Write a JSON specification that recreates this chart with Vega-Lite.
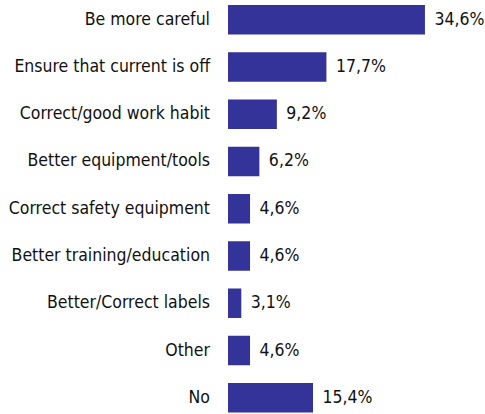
{
  "$schema": "https://vega.github.io/schema/vega-lite/v6.json",
  "width": 257,
  "height": 410.5,
  "autosize": "none",
  "padding": {"left": 228, "top": 3.5, "right": 0, "bottom": 0},
  "background": "white",
  "config": {"view": {"stroke": null}, "font": "DejaVu Sans Condensed"},
  "data": {"values": [
    {"answer": "Be more careful", "pct": 34.6, "label": "34,6%"},
    {"answer": "Ensure that current is off", "pct": 17.7, "label": "17,7%"},
    {"answer": "Correct/good work habit", "pct": 9.2, "label": "9,2%"},
    {"answer": "Better equipment/tools", "pct": 6.2, "label": "6,2%"},
    {"answer": "Correct safety equipment", "pct": 4.6, "label": "4,6%"},
    {"answer": "Better training/education", "pct": 4.6, "label": "4,6%"},
    {"answer": "Better/Correct labels", "pct": 3.1, "label": "3,1%"},
    {"answer": "Other", "pct": 4.6, "label": "4,6%"},
    {"answer": "No", "pct": 15.4, "label": "15,4%"}
  ]},
  "encoding": {
    "y": {"field": "answer", "type": "nominal", "sort": null,
      "scale": {"paddingInner": 0.376, "paddingOuter": 0.03},
      "axis": {"title": null, "domain": false, "ticks": false, "labelPadding": 18.5,
        "labelFontSize": 17.5, "labelColor": "#111111", "labelFont": "DejaVu Sans Condensed", "labelLimit": 300}},
    "x": {"field": "pct", "type": "quantitative",
      "scale": {"domain": [0.82, 44.9], "zero": false, "nice": false},
      "axis": null}
  },
  "layer": [
    {"mark": {"type": "bar", "color": "#333399", "clip": true}},
    {"mark": {"type": "text", "align": "left", "baseline": "middle", "dx": 9.5, "fontSize": 17.5, "color": "#111111", "font": "DejaVu Sans Condensed"},
     "encoding": {"text": {"field": "label"}}}
  ]
}
